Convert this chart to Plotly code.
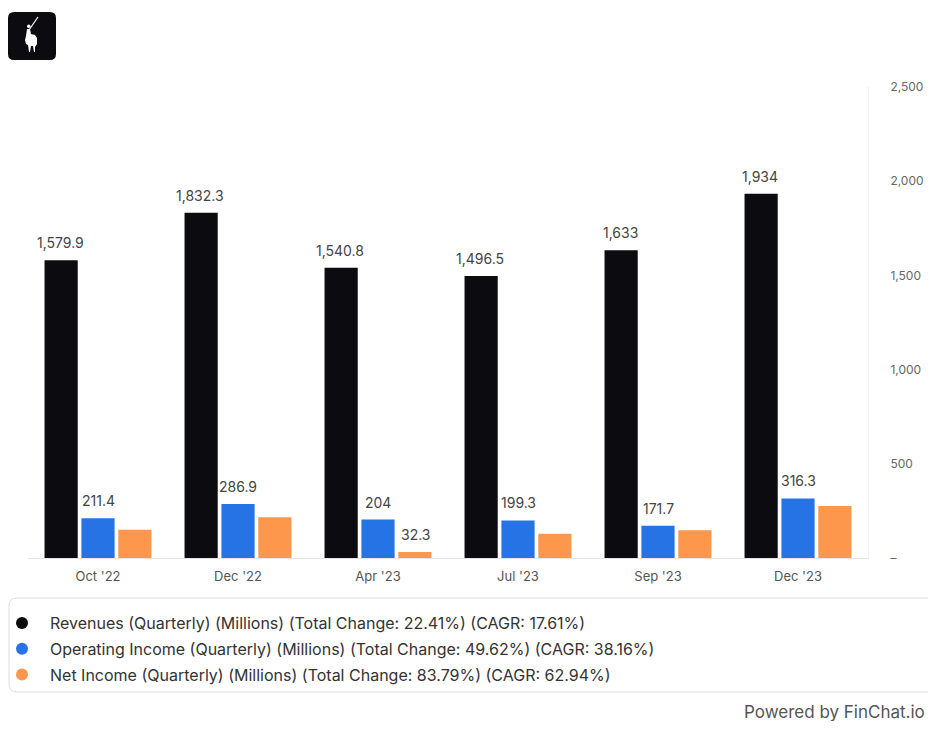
import plotly.graph_objects as go

categories = ["Oct '22", "Dec '22", "Apr '23", "Jul '23", "Sep '23", "Dec '23"]
revenues = [1579.9, 1832.3, 1540.8, 1496.5, 1633, 1934]
operating_income = [211.4, 286.9, 204, 199.3, 171.7, 316.3]
net_income = [150.0, 216.0, 32.3, 128.5, 146.9, 276.6]
revenue_labels = ["1,579.9", "1,832.3", "1,540.8", "1,496.5", "1,633", "1,934"]
operating_labels = ["211.4", "286.9", "204", "199.3", "171.7", "316.3"]
net_labels = ["", "", "32.3", "", "", ""]
series_names = [
    "Revenues (Quarterly) (Millions) (Total Change: 22.41%) (CAGR: 17.61%)",
    "Operating Income (Quarterly) (Millions) (Total Change: 49.62%) (CAGR: 38.16%)",
    "Net Income (Quarterly) (Millions) (Total Change: 83.79%) (CAGR: 62.94%)",
]
colors = ["#0b0b10", "#2673e6", "#fd974b"]
y_ticks = [0, 500, 1000, 1500, 2000, 2500]
y_ticktext = ["–", "500", "1,000", "1,500", "2,000", "2,500"]

# page has an 8px body margin; work in screen pixels and convert
OFF = 8
W, H = 920, 713
L, R, T, B = 28 - OFF, 868 - OFF, 87 - OFF, 558 - OFF

def px(x):
    return (x - OFF - L) / (R - L)

def py(y):
    return (B - (y - OFF)) / (B - T)

FONT = "Inter, Lato, sans-serif"

fig = go.Figure()
values = [revenues, operating_income, net_income]
labels = [revenue_labels, operating_labels, net_labels]
offsets = [-38, 0, 38]
for i in range(3):
    fig.add_trace(go.Bar(
        x=categories, y=values[i], marker=dict(color=colors[i], line=dict(width=0)),
        showlegend=False, hoverinfo="skip",
    ))
    for c, v, t in zip(categories, values[i], labels[i]):
        if t:
            fig.add_annotation(x=c, y=v, text=t, showarrow=False, xshift=offsets[i],
                               yanchor="bottom", yshift=7,
                               font=dict(family=FONT, size=14, color="#444444"))
for i in range(3):
    fig.add_trace(go.Scatter(
        x=[categories[0]], y=[None], mode="markers", name=series_names[i],
        marker=dict(color=colors[i], size=12, symbol="circle"),
        legendgroup=str(i),
    ))

fig.update_layout(
    width=W, height=H,
    margin=dict(l=L, r=W - R, t=T, b=H - B, autoexpand=False),
    paper_bgcolor="white", plot_bgcolor="white",
    barmode="group", bargap=0.21, bargroupgap=0.1,
    font=dict(family=FONT, color="#333333"),
    xaxis=dict(showgrid=False, showline=True, linecolor="#e6e6e6", linewidth=1,
               ticks="outside", ticklen=6, tickcolor="rgba(0,0,0,0)",
               tickfont=dict(size=13, color="#555555"), zeroline=False),
    yaxis=dict(side="right", range=[0, 2500], tickvals=y_ticks, ticktext=y_ticktext,
               showgrid=False, zeroline=False, showline=True, linecolor="#eeeeee",
               ticks="outside", ticklen=19, tickcolor="rgba(0,0,0,0)",
               tickfont=dict(size=12, color="#666666")),
    legend=dict(x=px(-6), y=py(606), xanchor="left", yanchor="top",
                font=dict(family=FONT, size=16, color="#333333"),
                bgcolor="rgba(0,0,0,0)", tracegroupgap=2, itemsizing="constant",
                itemwidth=46),
    showlegend=True,
)

def rounded_rect(x0, y0, x1, y1, r):
    return (f"M {px(x0 + r)},{py(y0)} L {px(x1 - r)},{py(y0)} "
            f"Q {px(x1)},{py(y0)} {px(x1)},{py(y0 + r)} "
            f"L {px(x1)},{py(y1 - r)} Q {px(x1)},{py(y1)} {px(x1 - r)},{py(y1)} "
            f"L {px(x0 + r)},{py(y1)} Q {px(x0)},{py(y1)} {px(x0)},{py(y1 - r)} "
            f"L {px(x0)},{py(y0 + r)} Q {px(x0)},{py(y0)} {px(x0 + r)},{py(y0)} Z")

def poly(points):
    return "M " + " L ".join(f"{px(x)},{py(y)}" for x, y in points) + " Z"

fig.add_shape(type="path", xref="paper", yref="paper",
              path=rounded_rect(9, 598, 946, 692, 8),
              line=dict(color="#dddddd", width=1), fillcolor="rgba(0,0,0,0)", layer="below")
# logo
fig.add_shape(type="path", xref="paper", yref="paper",
              path=rounded_rect(8, 12, 56, 60, 6),
              line=dict(width=0), fillcolor="#0b0b10")
fig.add_shape(type="path", xref="paper", yref="paper",
              path=poly([(27, 29), (30, 29), (31, 34), (35, 35), (37, 38), (37, 44),
                         (35, 47), (35, 52), (34, 52), (33, 46), (31, 46), (30, 52),
                         (29, 52), (28, 45), (26, 44), (25, 40), (26, 36)]),
              line=dict(width=0), fillcolor="white")
fig.add_shape(type="circle", xref="paper", yref="paper",
              x0=px(27), x1=px(30.5), y0=py(24.5), y1=py(28),
              line=dict(width=0), fillcolor="white")
fig.add_shape(type="line", xref="paper", yref="paper",
              x0=px(29), y0=py(30), x1=px(38), y1=py(17),
              line=dict(color="white", width=1.2))

fig.add_annotation(xref="paper", yref="paper", x=px(927), y=py(712), text="Powered by FinChat.io",
                   showarrow=False, xanchor="right", yanchor="middle",
                   font=dict(family=FONT, size=17, color="#555555"))

fig.write_html("out.html")
